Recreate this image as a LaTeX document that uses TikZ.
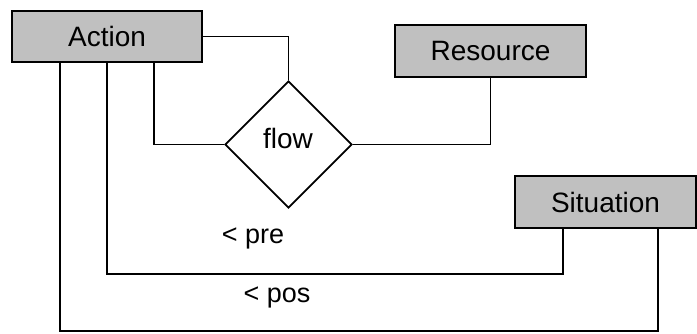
\documentclass[tikz,border=0pt]{standalone}
\usepackage{fontspec}
\setmainfont{Liberation Sans}
\usetikzlibrary{shapes.geometric}
\definecolor{boxgray}{HTML}{C0C0C0}
\tikzset{
  entity/.style={draw=black, fill=boxgray, line width=2pt, inner sep=0pt, font=\fontsize{28}{32}\selectfont},
  relation/.style={draw=black, diamond, line width=1.8pt, inner sep=0pt, minimum width=127pt, minimum height=127pt},
  conn/.style={draw=black, line width=1.4pt},
  lbl/.style={inner sep=0pt, font=\fontsize{27}{31}\selectfont}
}
\begin{document}
\begin{tikzpicture}[x=1pt, y=-1pt]
\useasboundingbox (0,0) rectangle (697,334);
\node[entity, minimum width=190pt, minimum height=51pt] (action) at (107,36.5) {Action};
\node[entity, minimum width=191pt, minimum height=52pt] (resource) at (490.5,51) {Resource};
\node[entity, minimum width=181pt, minimum height=52pt] (situation) at (605.5,202) {Situation};
\node[relation] (flow) at (288.5,144.5) {};
\node[lbl, font=\fontsize{28}{32}\selectfont] (flowtxt) at (288,138) {flow};
\coordinate (j1) at (563,274);
\coordinate (j2) at (658,331);
\draw[conn] (action.east) -| (flow.north);
\draw[conn] ([xshift=47pt]action.south) |- (flow.west);
\draw[conn] (flow.east) -| (resource.south);
\draw[conn] (action.south) |- (j1) -- (j1 |- situation.south);
\draw[conn] ([xshift=-47pt]action.south) |- (j2) -- (j2 |- situation.south);
\node[lbl] (pre) at (253,238) {< pre};
\node[lbl] (pos) at (277,297) {< pos};
\end{tikzpicture}
\end{document}
